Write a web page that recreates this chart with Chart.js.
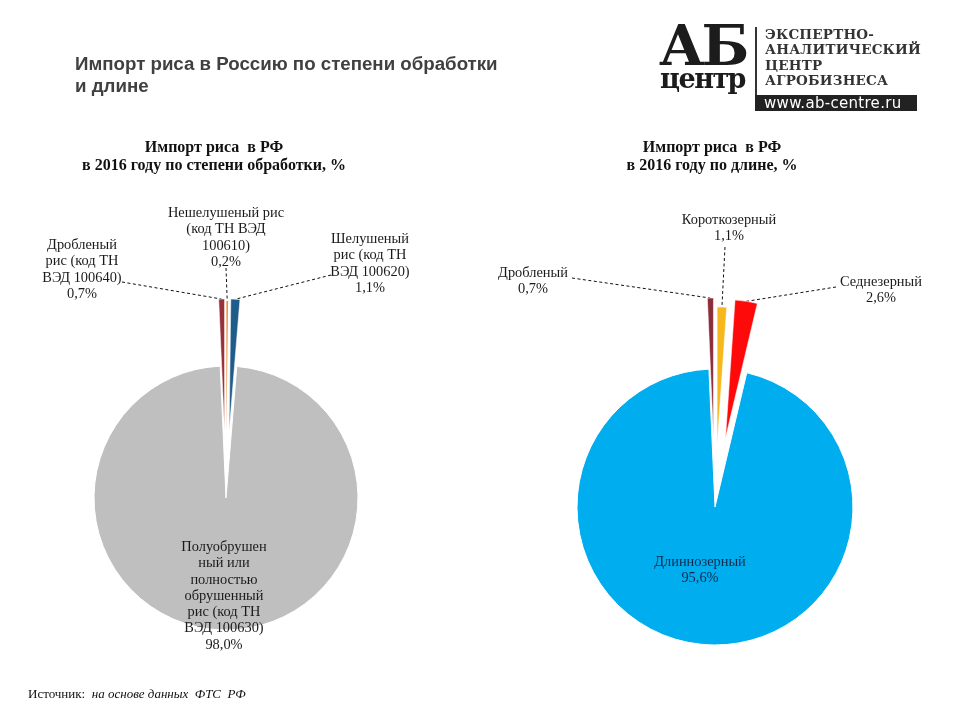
<!DOCTYPE html>
<html><head><meta charset="utf-8">
<script src="https://cdn.jsdelivr.net/npm/chart.js@4.4.0/dist/chart.umd.min.js"></script>
<style>
html,body{margin:0;padding:0;width:960px;height:720px;overflow:hidden;background:#fff;}
.abs{position:absolute;white-space:nowrap;}
canvas{position:absolute;top:0;}
.lbl{position:absolute;transform:translateX(-50%);text-align:center;white-space:nowrap;font:14.4px 'Liberation Serif','Times New Roman',serif;line-height:16.3px;color:#1a1a1a;}
.sub{position:absolute;transform:translateX(-50%);text-align:center;white-space:nowrap;font:bold 16px 'Liberation Serif','Times New Roman',serif;line-height:18px;color:#111;}
</style></head><body>
<canvas id="cLeft" width="480" height="720" style="left:0"></canvas>
<canvas id="cRight" width="480" height="720" style="left:480px"></canvas>

<div class="abs" style="left:75px;top:53px;font:bold 18.7px 'Liberation Sans',Arial,sans-serif;line-height:22px;color:#404040;">Импорт риса в Россию по степени обработки<br>и длине</div>

<div class="sub" style="left:214px;top:138px;">Импорт риса&nbsp; в РФ<br>в 2016 году по степени обработки, %</div>
<div class="sub" style="left:712px;top:138px;">Импорт риса&nbsp; в РФ<br>в 2016 году по длине, %</div>

<!-- logo -->
<div class="abs" style="left:659px;top:15px;font:bold 56px 'DejaVu Serif',serif;line-height:60px;color:#1c1c1c;letter-spacing:-3px;">АБ</div>
<div class="abs" style="left:660px;top:64px;font:bold 27px 'DejaVu Serif',serif;line-height:30px;color:#1c1c1c;letter-spacing:-1.5px;">центр</div>
<div class="abs" style="left:755px;top:27px;width:2px;height:70px;background:#333;"></div>
<div class="abs" style="left:765px;top:27px;font:bold 13.5px 'DejaVu Serif',serif;line-height:15.3px;color:#333;letter-spacing:0.2px;">ЭКСПЕРТНО-<br>АНАЛИТИЧЕСКИЙ<br>ЦЕНТР<br>АГРОБИЗНЕСА</div>
<div class="abs" style="left:755px;top:95px;width:162px;height:16px;background:#222;color:#fff;font:15px 'DejaVu Sans',sans-serif;line-height:16px;text-indent:9px;letter-spacing:0.3px;">www.ab-centre.ru</div>

<div class="abs" style="left:28px;top:686px;font:13px 'Liberation Serif','Times New Roman',serif;color:#111;">Источник:&nbsp; <i>на основе данных&nbsp; ФТС&nbsp; РФ</i></div>

<div id="labels"></div>

<script>
// ---- data ----
const leftCategories = ['Нешелушеный рис (код ТН ВЭД 100610)', 'Шелушеный рис (код ТН ВЭД 100620)', 'Полуобрушенный или полностью обрушенный рис (код ТН ВЭД 100630)', 'Дробленый рис (код ТН ВЭД 100640)'];
const leftValues = [0.2, 1.1, 98.0, 0.7];
const leftLabelLines = [['Нешелушеный рис', '(код ТН ВЭД', '100610)'], ['Шелушеный', 'рис (код ТН', 'ВЭД 100620)'], ['Полуобрушен', 'ный или', 'полностью', 'обрушенный', 'рис (код ТН', 'ВЭД 100630)'], ['Дробленый', 'рис (код ТН', 'ВЭД 100640)']];

const rightCategories = ['Короткозерный', 'Седнезерный', 'Длиннозерный', 'Дробленый'];
const rightValues = [1.1, 2.6, 95.6, 0.7];
const rightLabelLines = [['Короткозерный'], ['Седнезерный'], ['Длиннозерный'], ['Дробленый']];

// ---- styles / layout ----
const leftColors = ['#F28C3C', '#1F5C8A', '#BFBFBF', '#97313A'];
const rightColors = ['#F6B81C', '#FF0A0A', '#00AEEF', '#8C2D3A'];
const leftBorders = [0, 0.5, 1, 0.5];
const rightBorders = [0.5, 0.5, 1, 0.5];
const leftExplode = [65, 67, 0, 67];
const rightExplode = [62, 70, 0, 71];
const leftLabelLayout = [
  {x: 226, y: 204, from: [226, 268]},
  {x: 370, y: 230, from: [331, 275]},
  {x: 224, y: 538, from: null},
  {x: 82, y: 236, from: [122, 282]}
];
const rightLabelLayout = [
  {x: 729, y: 211, from: [725, 247]},
  {x: 881, y: 273, from: [836, 287]},
  {x: 700, y: 553, from: null, color: '#13294B'},
  {x: 533, y: 264, from: [572, 278]}
];

const fmt = v => v.toFixed(1).replace('.', ',') + '%';

function addLabels(lines, values, layout) {
  const host = document.getElementById('labels');
  values.forEach((v, i) => {
    const d = document.createElement('div');
    d.className = 'lbl';
    d.style.left = layout[i].x + 'px';
    d.style.top = layout[i].y + 'px';
    if (layout[i].color) d.style.color = layout[i].color;
    d.innerHTML = lines[i].concat([fmt(v)]).join('<br>');
    host.appendChild(d);
  });
}
addLabels(leftLabelLines, leftValues, leftLabelLayout);
addLabels(rightLabelLines, rightValues, rightLabelLayout);

const explodePlugin = {
  id: 'explode',
  beforeDatasetDraw(chart, args, opts) {
    const ctx = chart.ctx;
    const arcs = args.meta.data;
    ctx.save();
    ctx.setLineDash([3, 2.5]);
    ctx.strokeStyle = '#111';
    ctx.lineWidth = 1;
    opts.layout.forEach((l, i) => {
      if (!l.from) return;
      const arc = arcs[i];
      const d = opts.explode[i] || 0;
      const mid = (arc.startAngle + arc.endAngle) / 2;
      const r = arc.outerRadius + d;
      ctx.beginPath();
      ctx.moveTo(l.from[0] - opts.pageX, l.from[1]);
      ctx.lineTo(arc.x + Math.cos(mid) * r, arc.y + Math.sin(mid) * r);
      ctx.stroke();
    });
    ctx.restore();
    arcs.forEach((arc, i) => {
      const d = opts.explode[i] || 0;
      const mid = (arc.startAngle + arc.endAngle) / 2;
      ctx.save();
      ctx.translate(Math.cos(mid) * d, Math.sin(mid) * d);
      arc.draw(ctx);
      ctx.restore();
    });
    return false;
  }
};

function makePie(id, cats, vals, colors, borders, radius, padding, explode, layout, pageX) {
  return new Chart(document.getElementById(id), {
    type: 'pie',
    data: {
      labels: cats,
      datasets: [{data: vals, backgroundColor: colors, borderColor: '#ffffff', borderWidth: borders}]
    },
    options: {
      responsive: false,
      animation: false,
      events: [],
      radius: radius,
      layout: {padding: padding},
      plugins: {
        legend: {display: false},
        tooltip: {enabled: false},
        explode: {explode: explode, layout: layout, pageX: pageX}
      }
    },
    plugins: [explodePlugin]
  });
}

makePie('cLeft', leftCategories, leftValues, leftColors, leftBorders, 132, {left: 0, right: 28, top: 276, bottom: 0}, leftExplode, leftLabelLayout, 0);
makePie('cRight', rightCategories, rightValues, rightColors, rightBorders, 138, {left: 0, right: 10, top: 294, bottom: 0}, rightExplode, rightLabelLayout, 480);
</script>
</body></html>
